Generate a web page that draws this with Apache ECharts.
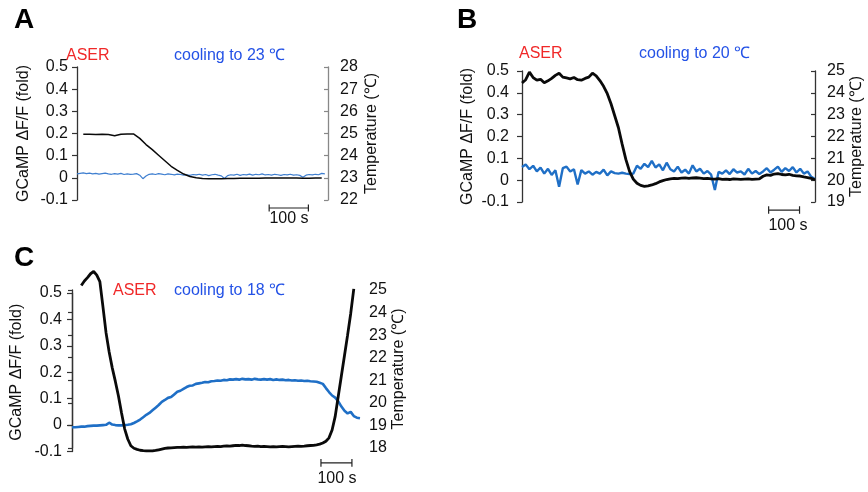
<!DOCTYPE html>
<html>
<head>
<meta charset="utf-8">
<script src="https://cdn.jsdelivr.net/npm/echarts@6/dist/echarts.min.js"></script>
<style>
html,body{margin:0;padding:0;background:#fff;}
#chart{width:868px;height:492px;}
</style>
</head>
<body>
<div id="chart"></div>
<script>
// ---------- Panel A: cooling to 23 °C ----------
const aTempStart = 16, aTempStep = 16;   // seconds
const aTemp = [24.97,24.97,24.96,24.97,24.95,24.90,24.97,24.98,24.98,24.78,24.50,24.27,24.02,23.77,23.52,23.34,23.17,23.06,23.00,22.97,
  22.96,22.96,22.96,22.97,22.97,22.98,22.98,22.98,22.98,22.99,22.99,22.99,22.99,22.99,22.99,22.98,22.98,22.99,22.99];
const aGcampStart = 0, aGcampStep = 8;
const aGcamp = [0.018,0.020,0.022,0.019,0.021,0.018,0.020,0.017,0.019,0.021,
  0.018,0.016,0.019,0.017,0.020,0.015,0.018,0.016,0.017,0.019,
  0.012,-0.004,0.008,0.016,0.018,0.015,0.019,0.017,0.014,0.018,
  0.016,0.013,0.017,0.015,0.012,0.014,0.011,0.015,0.013,0.016,
  0.012,0.015,0.010,0.014,0.016,0.012,0.009,-0.003,0.010,0.014,
  0.012,0.016,0.011,0.015,0.013,0.017,0.012,0.016,0.014,0.018,
  0.013,0.015,0.012,0.016,0.014,0.011,0.015,0.013,0.016,0.012,
  0.014,0.011,0.003,0.012,0.015,0.013,0.016,0.014,0.020,0.018];
const aScale = [490, 590];
const aLeftTicks = [-0.1, 0.5, 0.1];
const aRightTicks = [22, 28, 1];

// ---------- Panel B: cooling to 20 °C ----------
const bTempStart = 0, bTempStep = 12;
const bTemp = [24.45,24.60,24.95,24.70,24.58,24.62,24.46,24.55,24.66,24.80,
  24.90,24.72,24.68,24.64,24.70,24.60,24.58,24.66,24.72,24.90,
  24.78,24.56,24.30,23.96,23.50,22.95,22.40,21.65,20.95,20.40,
  20.05,19.86,19.76,19.72,19.74,19.78,19.84,19.92,19.98,20.03,
  20.06,20.08,20.07,20.09,20.10,20.08,20.10,20.11,20.09,20.07,
  20.08,20.06,20.05,20.07,20.04,20.05,20.03,20.06,20.05,20.04,
  20.05,20.06,20.04,20.05,20.06,20.18,20.24,20.22,20.28,20.30,
  20.26,20.24,20.27,20.22,20.20,20.19,20.15,20.12,20.08,20.02];
const bGcampStart = 0, bGcampStep = 12;
const bGcamp = [0.060,0.072,0.050,0.066,0.040,0.058,0.030,0.052,0.024,0.045,
  -0.030,0.055,0.062,0.040,0.050,-0.020,0.046,0.030,0.040,0.025,
  0.038,0.030,0.048,0.022,0.040,0.032,0.030,0.034,0.030,0.028,
  0.030,0.066,0.052,0.075,0.060,0.088,0.058,0.072,0.045,0.080,
  0.050,0.040,0.062,0.035,0.048,0.030,0.068,0.040,0.052,0.030,
  0.042,0.025,-0.045,0.038,0.030,0.045,0.028,0.050,0.035,0.040,
  0.026,0.052,0.030,0.042,0.028,0.040,0.055,0.035,0.048,0.062,
  0.038,0.055,0.042,0.060,0.035,0.052,0.030,0.040,0.015,0.005];
const bScale = [798, 898];
const bLeftTicks = [-0.1, 0.5, 0.1];
const bRightTicks = [19, 25, 1];

// ---------- Panel C: cooling to 18 °C ----------
const cTempStart = 30, cTempStep = 10;
const cTemp = [25.20,25.40,25.55,25.72,25.82,25.66,25.37,24.25,23.10,22.25,
  21.55,20.95,20.30,19.55,18.85,18.40,18.10,17.99,17.94,17.90,
  17.88,17.87,17.87,17.87,17.89,17.92,17.95,17.98,18.00,18.01,
  18.02,18.03,18.03,18.04,18.03,18.04,18.05,18.04,18.05,18.04,
  18.05,18.06,18.05,18.06,18.07,18.06,18.08,18.09,18.08,18.10,
  18.12,18.11,18.13,18.11,18.10,18.08,18.07,18.08,18.06,18.07,
  18.06,18.05,18.06,18.05,18.06,18.07,18.06,18.05,18.06,18.07,
  18.08,18.07,18.08,18.10,18.11,18.12,18.14,18.17,18.22,18.30,
  18.45,18.80,19.40,20.30,21.20,22.10,23.00,23.95,25.05];
const cGcampStart = 0, cGcampStep = 10;
const cGcamp = [-0.008,-0.008,-0.007,-0.006,-0.006,-0.004,-0.003,-0.002,-0.002,-0.001,
  0.000,0.001,0.009,0.002,0.000,-0.001,-0.001,0.000,0.001,0.003,
  0.008,0.014,0.021,0.030,0.039,0.046,0.056,0.066,0.076,0.088,
  0.095,0.103,0.106,0.116,0.126,0.130,0.137,0.144,0.149,0.150,
  0.156,0.158,0.160,0.163,0.162,0.166,0.167,0.169,0.168,0.171,
  0.170,0.173,0.172,0.174,0.172,0.175,0.173,0.174,0.172,0.175,
  0.173,0.172,0.174,0.172,0.174,0.171,0.173,0.171,0.172,0.170,
  0.171,0.169,0.170,0.168,0.169,0.167,0.168,0.166,0.165,0.164,
  0.160,0.156,0.140,0.125,0.112,0.104,0.090,0.070,0.054,0.044,
  0.050,0.034,0.028,0.026];
const cScale = [804, 904];
const cLeftTicks = [-0.1, 0.5, 0.1];
const cRightTicks = [18, 25, 1];

const leftName = 'GCaMP ΔF/F (fold)';
const rightName = 'Temperature (℃)';
const panelLetters = ['A', 'B', 'C'];
const cellLabel = 'ASER';
const coolingLabels = ['cooling to 23 ℃', 'cooling to 20 ℃', 'cooling to 18 ℃'];
const scaleLabel = '100 s';

// ---------- build ----------
const FONT = '"Liberation Sans", Arial, Helvetica, sans-serif';
const BLACK = '#0a0a0a', BLUE = '#1f6fc6', RED = '#f02828', TXTBLUE = '#2452e6';

function pairs(start, step, vals) { return vals.map((v, i) => [start + i * step, v]); }
function scaleBar(r, y, h) {
  return [[r[0], y + h], [r[0], y - h], [r[0], y], [r[1], y], [r[1], y + h], [r[1], y - h]];
}
function yAx(gridIndex, ticks, pos, opts) {
  return Object.assign({
    type: 'value', gridIndex: gridIndex, position: pos,
    min: ticks[0], max: ticks[1], interval: ticks[2],
    splitLine: { show: false },
    axisLine: { show: true, lineStyle: { color: '#333', width: 1.3 } },
    axisTick: { show: true, length: 5, lineStyle: { color: '#333', width: 1.2 } },
    axisLabel: { color: '#111', fontSize: 16, fontFamily: FONT, margin: 9 },
    nameLocation: 'middle', nameRotate: 90,
    nameTextStyle: { color: '#111', fontSize: 16, fontFamily: FONT }
  }, opts);
}
function xAx(gridIndex, max) {
  return { type: 'value', gridIndex: gridIndex, min: 0, max: max, show: false };
}
function line(x, y, data, color, width, z) {
  return { type: 'line', xAxisIndex: x, yAxisIndex: y, data: data, showSymbol: false, symbol: 'none',
    clip: false, lineStyle: { color: color, width: width }, z: z, silent: true, animation: false };
}

const option = {
  animation: false,
  backgroundColor: '#fff',
  grid: [
    { left: 77, top: 67, width: 251, height: 133 },
    { left: 522, top: 71, width: 293, height: 131 },
    { left: 72, top: 293, width: 292, height: 158.5 },
    { left: 72, top: 290, width: 292, height: 158 }
  ],
  xAxis: [xAx(0, 640), xAx(1, 948), xAx(2, 943), xAx(3, 943)],
  yAxis: [
    yAx(0, aLeftTicks, 'left', { name: leftName, nameGap: 45 }),
    yAx(0, aRightTicks, 'right', { name: rightName, nameGap: 36,
      axisLine: { show: true, lineStyle: { color: '#888', width: 1.3 } },
      axisTick: { show: true, inside: true, length: 4, lineStyle: { color: '#888', width: 1.2 } },
      axisLabel: { color: '#111', fontSize: 16, fontFamily: FONT, margin: 12 } }),
    yAx(1, bLeftTicks, 'left', { name: leftName, nameGap: 46, axisLabel: { color: '#111', fontSize: 16, fontFamily: FONT, margin: 13 } }),
    yAx(1, bRightTicks, 'right', { name: rightName, nameGap: 34,
      axisTick: { show: true, inside: true, length: 4, lineStyle: { color: '#333', width: 1.2 } },
      axisLabel: { color: '#111', fontSize: 16, fontFamily: FONT, margin: 12 } }),
    yAx(2, cLeftTicks, 'left', { name: leftName, nameGap: 47, axisLabel: { color: '#111', fontSize: 16, fontFamily: FONT, margin: 10 } }),
    yAx(3, cRightTicks, 'right', { name: rightName, nameGap: 25,
      axisTick: { show: true, inside: true, length: 4, lineStyle: { color: '#333', width: 1.2 } },
      axisLabel: { color: '#111', fontSize: 16, fontFamily: FONT, margin: 5 } })
  ],
  series: [
    line(0, 0, pairs(aGcampStart, aGcampStep, aGcamp), '#3f7fd0', 1.2, 2),
    line(0, 1, pairs(aTempStart, aTempStep, aTemp), BLACK, 1.5, 3),
    line(0, 0, scaleBar(aScale, -0.136, 0.016), '#222', 1.2, 3),
    line(1, 2, pairs(bGcampStart, bGcampStep, bGcamp), BLUE, 2.4, 2),
    line(1, 3, pairs(bTempStart, bTempStep, bTemp), BLACK, 2.8, 3),
    line(1, 2, scaleBar(bScale, -0.137, 0.017), '#222', 1.2, 3),
    line(2, 4, pairs(cGcampStart, cGcampStep, cGcamp), BLUE, 2.6, 2),
    line(3, 5, pairs(cTempStart, cTempStep, cTemp), BLACK, 2.8, 3),
    line(2, 4, scaleBar(cScale, -0.143, 0.015), '#222', 1.2, 3)
  ],
  graphic: [
    { type: 'text', left: 14, top: 6, style: { text: panelLetters[0], font: 'bold 28px ' + FONT, fill: '#000' } },
    { type: 'text', left: 457, top: 6, style: { text: panelLetters[1], font: 'bold 28px ' + FONT, fill: '#000' } },
    { type: 'text', left: 14, top: 244, style: { text: panelLetters[2], font: 'bold 28px ' + FONT, fill: '#000' } },
    { type: 'text', x: 66, y: 56, style: { text: cellLabel, font: '16px ' + FONT, fill: RED, verticalAlign: 'middle' } },
    { type: 'text', x: 174, y: 56, style: { text: coolingLabels[0], font: '16px ' + FONT, fill: TXTBLUE, verticalAlign: 'middle' } },
    { type: 'text', x: 519, y: 54, style: { text: cellLabel, font: '16px ' + FONT, fill: RED, verticalAlign: 'middle' } },
    { type: 'text', x: 639, y: 54, style: { text: coolingLabels[1], font: '16px ' + FONT, fill: TXTBLUE, verticalAlign: 'middle' } },
    { type: 'text', x: 113, y: 291, style: { text: cellLabel, font: '16px ' + FONT, fill: RED, verticalAlign: 'middle' } },
    { type: 'text', x: 174, y: 291, style: { text: coolingLabels[2], font: '16px ' + FONT, fill: TXTBLUE, verticalAlign: 'middle' } },
    { type: 'text', x: 289, y: 219, style: { text: scaleLabel, font: '16px ' + FONT, fill: '#111', align: 'center', verticalAlign: 'middle' } },
    { type: 'text', x: 788, y: 226, style: { text: scaleLabel, font: '16px ' + FONT, fill: '#111', align: 'center', verticalAlign: 'middle' } },
    { type: 'text', x: 337, y: 479, style: { text: scaleLabel, font: '16px ' + FONT, fill: '#111', align: 'center', verticalAlign: 'middle' } }
  ]
};

const chart = echarts.init(document.getElementById('chart'), null, { renderer: 'canvas' });
chart.setOption(option);
</script>
</body>
</html>
